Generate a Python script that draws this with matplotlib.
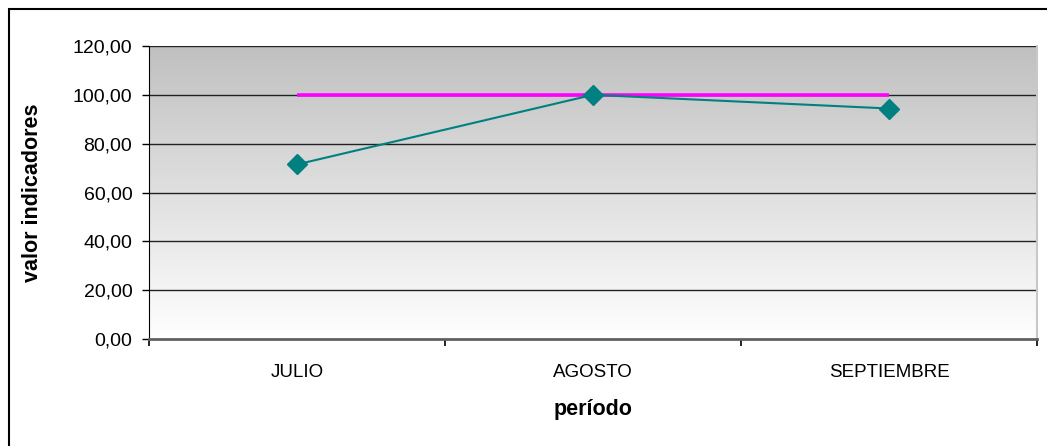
import numpy as np
import matplotlib.pyplot as plt
from matplotlib.patches import Rectangle
from matplotlib.colors import LinearSegmentedColormap

plt.rcParams['font.family'] = ['Liberation Sans', 'DejaVu Sans']

# datos del grafico
periodos = ['JULIO', 'AGOSTO', 'SEPTIEMBRE']
valores = [71.5, 100.0, 94.4]
meta = [100.0, 100.0, 100.0]
yticks = [0, 20, 40, 60, 80, 100, 120]

W, H = 1047, 446
fig = plt.figure(figsize=(W / 100, H / 100), dpi=100)

# marco exterior del grafico
fig.patches.append(Rectangle((8.5 / W, -0.1), 1.2, 1 - 8.5 / H + 0.1,
                             transform=fig.transFigure, fill=False,
                             edgecolor='black', linewidth=1.5))

ax = fig.add_axes([149 / W, 1 - 339 / H, (1037 - 149) / W, (339 - 46) / H])
x = np.arange(len(periodos))

# fondo degradado gris (arriba) -> blanco (abajo)
grad = np.linspace(0, 1, 256).reshape(-1, 1)
cmap = LinearSegmentedColormap.from_list('fondo', ['#c0c0c0', '#ffffff'])
ax.imshow(grad, cmap=cmap, extent=[-0.5, 2.5, 0, 120], aspect='auto', zorder=0)

for v in yticks[1:]:
    ax.axhline(v, color='#222222', lw=1, zorder=1)

ax.plot(x, meta, color='#ff00ff', lw=2.6, solid_capstyle='butt', zorder=3)
ax.plot(x, valores, color='#008080', lw=1.5, marker='D', markersize=10, zorder=4)

ax.set_xlim(-0.5, 2.5)
ax.set_ylim(0, 120)
ax.set_yticks(yticks)
ax.set_yticklabels([f'{v:.2f}'.replace('.', ',') for v in yticks], fontsize=14)
ax.set_xticks([-0.5, 0.5, 1.5, 2.5])
ax.set_xticklabels([])
ax.set_xticks(x, minor=True)
ax.set_xticklabels(periodos, minor=True, fontsize=13.5)
ax.tick_params(axis='x', which='minor', length=0, pad=18)
ax.tick_params(axis='x', which='major', length=5, width=1.2, color='black')
ax.tick_params(axis='y', length=5, width=1, pad=7)

ax.spines['top'].set_visible(False)
ax.spines['right'].set_color('#c8c8c8')
ax.spines['right'].set_linewidth(1.5)
ax.spines['left'].set_color('black')
ax.spines['bottom'].set_color('#606060')
ax.spines['bottom'].set_linewidth(2)

fig.text(33 / W, 1 - 193 / H, 'valor indicadores', rotation=90, fontsize=15.5,
         fontweight='bold', ha='center', va='center')
fig.text(593 / W, 1 - 409 / H, 'período', fontsize=15.5, fontweight='bold',
         ha='center', va='center')

fig.savefig('out.png', dpi=100)
